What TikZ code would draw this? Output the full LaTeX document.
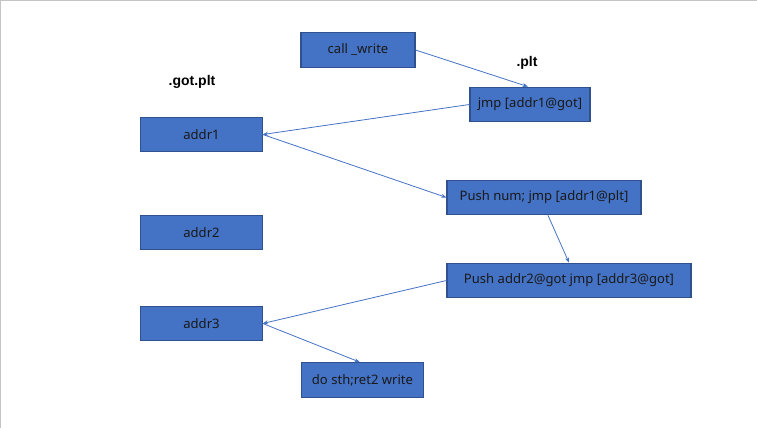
\documentclass[tikz,border=0pt]{standalone}
\usepackage{fontspec}
\setmainfont{Noto Sans}
\newfontfamily\titlefont{Liberation Sans}
\usetikzlibrary{arrows.meta}
\definecolor{boxblue}{HTML}{4472C4}
\definecolor{boxline}{HTML}{2F528F}
\definecolor{frame}{HTML}{C4C4C4}
\begin{document}
\begin{tikzpicture}[x=0.75pt,y=-0.75pt,
  cell/.style={draw=boxline,fill=boxblue,line width=0.8pt,minimum height=26pt,inner sep=0pt,font=\fontsize{9.8}{11}\selectfont,text=black!90},
  sect/.style={font=\titlefont\fontsize{10.5}{12}\selectfont\bfseries},
  link/.style={draw=boxblue,line width=0.6pt,-{Stealth[length=4pt,width=3pt]}}]
\useasboundingbox (0,0) rectangle (757,428);
\draw [frame,line width=1pt] (0.5,428) -- (0.5,0.5) -- (757,0.5);
% section titles
\node [sect] (gotplt) at (192,82) {.got.plt};
\node [sect] (plt) at (527,63) {.plt};
% got entries
\node [cell,minimum width=91pt] (addr1) at (201.5,134.5) {addr1};
\node [cell,minimum width=91pt] (addr2) at (201.5,232.5) {addr2};
\node [cell,minimum width=91pt] (addr3) at (201.5,323.5) {addr3};
% code
\node [cell,minimum width=85.5pt] (call) at (358,50) {call \_write};
\node [cell,minimum width=90pt] (jmp) at (530,104.5) {jmp [addr1@got]};
\node [cell,minimum width=145.5pt] (pushnum) at (544,197.5) {Push num; jmp [addr1@plt]};
\node [cell,minimum width=183pt] (pushaddr) at (569,280.5) {Push addr2@got jmp [addr3@got]};
\node [cell,minimum width=91pt] (dosth) at (362.5,380) {do sth;ret2 write};
% jumps
\draw [link] (call.east) -- ([xshift=-1.5pt]jmp.north);
\draw [link] (jmp.west) -- (addr1.east);
\draw [link] (addr1.east) -- (pushnum.west);
\draw [link] ([xshift=3pt]pushnum.south) -- (pushaddr.north);
\draw [link] (pushaddr.west) -- (addr3.east);
\draw [link] (addr3.east) -- ([xshift=-2pt]dosth.north);
\end{tikzpicture}
\end{document}
